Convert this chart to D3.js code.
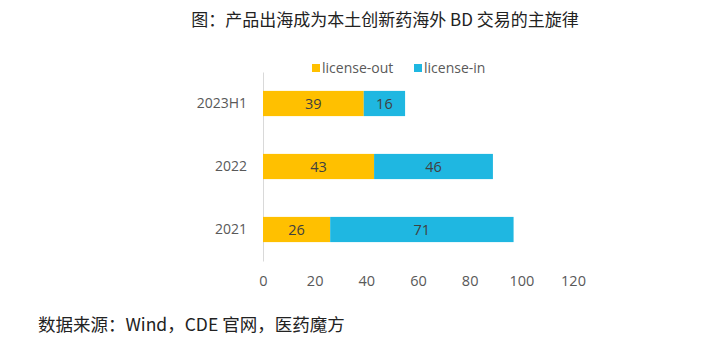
<!DOCTYPE html>
<html lang="zh">
<head>
    <meta charset="UTF-8">
    <title>BD chart</title>
    <script src="https://d3js.org/d3.v7.min.js"></script>
    <style>
        body { margin: 0; background: #fff; }
        text { font-family: "Noto Sans CJK SC", "Noto Sans", sans-serif; }
    </style>
</head>
<body>
<script>
    // data
    const years = ["2023H1", "2022", "2021"];
    const licenseOut = [39, 43, 26];
    const licenseIn = [16, 46, 71];
    const xTicks = [0, 20, 40, 60, 80, 100, 120];
    const seriesNames = ["license-out", "license-in"];
    const colors = ["#FFC000", "#1FB7E1"];

    const W = 712, H = 352;
    const svg = d3.select("body").append("svg")
        .attr("width", W).attr("height", H);

    // title
    svg.append("text")
        .attr("x", 385).attr("y", 26)
        .attr("text-anchor", "middle")
        .attr("font-size", 17).attr("fill", "#222")
        .text("图：产品出海成为本土创新药海外 BD 交易的主旋律");

    // scales
    const x = d3.scaleLinear().domain([0, 120]).range([263, 573]);
    const y = d3.scaleBand().domain(years).range([72, 261])
        .paddingInner(0.6).paddingOuter(0.3);

    // stacked data
    const rows = years.map((yr, i) => ({ year: yr, out: licenseOut[i], in: licenseIn[i] }));
    const stack = d3.stack().keys(["out", "in"])(rows);

    // x axis labels only
    const xAxis = svg.append("g")
        .attr("transform", "translate(0,281)")
        .call(d3.axisBottom(x).tickValues(xTicks).tickSize(0).tickPadding(0));
    xAxis.select(".domain").remove();
    xAxis.selectAll("text")
        .attr("font-size", 14.5).attr("fill", "#595959")
        .attr("dy", "0.35em")
        .style("font-family", "'Open Sans', 'Noto Sans', sans-serif");

    // y axis
    const yAxis = svg.append("g")
        .attr("transform", "translate(263,0)")
        .call(d3.axisLeft(y).tickSize(0).tickPadding(16));
    yAxis.select(".domain").attr("stroke", "#d9d9d9").attr("stroke-width", 1);
    yAxis.selectAll("text")
        .attr("font-size", 14).attr("fill", "#595959")
        .style("font-family", "'Open Sans', 'Noto Sans', sans-serif");

    // bars
    stack.forEach(function (layer, k) {
        const g = svg.append("g").attr("fill", colors[k]);
        g.selectAll("rect").data(layer).enter().append("rect")
            .attr("x", d => x(d[0]))
            .attr("y", d => y(d.data.year))
            .attr("width", d => x(d[1]) - x(d[0]))
            .attr("height", y.bandwidth());
        svg.append("g").selectAll("text").data(layer).enter().append("text")
            .attr("x", d => (x(d[0]) + x(d[1])) / 2)
            .attr("y", d => y(d.data.year) + y.bandwidth() / 2)
            .attr("dy", "0.35em")
            .attr("text-anchor", "middle")
            .attr("font-size", 14.5).attr("fill", "#404040")
            .style("font-family", "'Open Sans', 'Noto Sans', sans-serif")
            .text(d => d[1] - d[0]);
    });

    // legend
    const legendX = [312, 414];
    seriesNames.forEach(function (name, i) {
        svg.append("rect")
            .attr("x", legendX[i]).attr("y", 64)
            .attr("width", 8).attr("height", 8)
            .attr("fill", colors[i]);
        svg.append("text")
            .attr("x", legendX[i] + 10).attr("y", 68)
            .attr("dy", "0.35em")
            .attr("font-size", 14).attr("fill", "#595959")
            .style("font-family", "'Open Sans', 'Noto Sans', sans-serif")
            .text(name);
    });

    // source
    svg.append("text")
        .attr("x", 38).attr("y", 331)
        .attr("font-size", 17.5).attr("fill", "#222")
        .text("数据来源：Wind，CDE 官网，医药魔方");
</script>
</body>
</html>
